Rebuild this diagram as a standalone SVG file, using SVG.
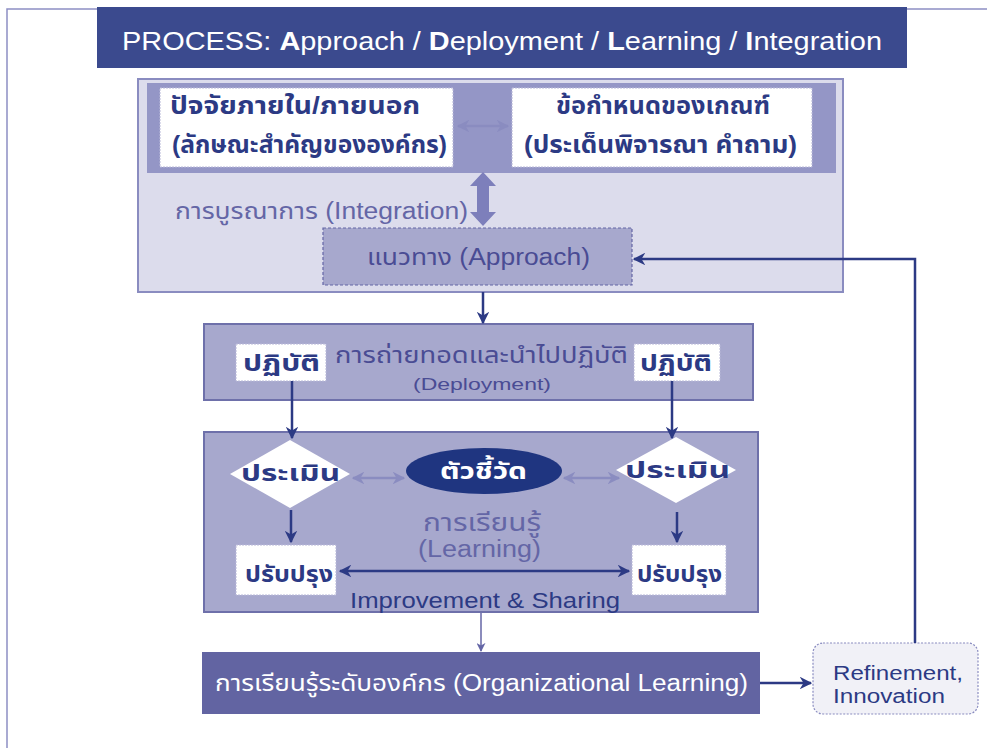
<svg xmlns="http://www.w3.org/2000/svg" width="987" height="748" viewBox="0 0 987 748">
<defs>
<style>
.t{font-family:"Liberation Sans","Noto Sans Thai","Noto Sans",sans-serif;}
.hdr{fill:#3b4a8e;}
.panel{fill:#a7a8cd;stroke:#6e70aa;stroke-width:2;}
.wbox{fill:#ffffff;stroke:#b8b8d8;stroke-width:1;stroke-dasharray:2 1;}
.dk{fill:#2c3a84;}
.md{fill:#6466a6;}
.ln{stroke:#2c3a84;stroke-width:2.5;fill:none;}
.lt{stroke:#8a8cc0;stroke-width:2.5;fill:none;}
</style>
<marker id="ad" viewBox="0 0 10 10" refX="9" refY="5" markerWidth="5" markerHeight="5" orient="auto-start-reverse"><path d="M0,0 L10,5 L0,10 L3,5 z" fill="#2c3a84"/></marker>
<marker id="al" viewBox="0 0 10 10" refX="9" refY="5" markerWidth="5" markerHeight="5" orient="auto-start-reverse"><path d="M0,0 L10,5 L0,10 L3,5 z" fill="#8a8cc0"/></marker>
<marker id="am" viewBox="0 0 10 10" refX="9" refY="5" markerWidth="6" markerHeight="6" orient="auto-start-reverse"><path d="M0,0 L10,5 L0,10 L3,5 z" fill="#6466a6"/></marker>
</defs>
<rect width="987" height="748" fill="#ffffff"/>
<path d="M7,748 L7,9 L987,9" fill="none" stroke="#8d8fc4" stroke-width="1.5"/>

<g id="header">
<rect x="97" y="7" width="810" height="61" class="hdr"/>
<text x="122" y="50" class="t" font-size="26" fill="#ffffff" textLength="760" lengthAdjust="spacingAndGlyphs">PROCESS: <tspan font-weight="bold">A</tspan>pproach / <tspan font-weight="bold">D</tspan>eployment / <tspan font-weight="bold">L</tspan>earning / <tspan font-weight="bold">I</tspan>ntegration</text>
</g>

<g id="top-box">
<rect x="138" y="79" width="705" height="213" fill="#dcdcec" stroke="#8a8cc0" stroke-width="2"/>
<rect x="147" y="83" width="689" height="90" fill="#9496c6"/>
</g>

<g id="factors">
<rect x="160" y="88" width="293" height="79" class="wbox"/>
<text x="170" y="114" class="t dk" font-size="24" font-weight="bold" textLength="250" lengthAdjust="spacingAndGlyphs">ปัจจัยภายใน/ภายนอก</text>
<text x="172" y="153" class="t dk" font-size="24" font-weight="bold" textLength="275" lengthAdjust="spacingAndGlyphs">(ลักษณะสำคัญขององค์กร)</text>
</g>

<g id="criteria">
<rect x="512" y="88" width="300" height="79" class="wbox"/>
<text x="556" y="114" class="t dk" font-size="24" font-weight="bold" textLength="214" lengthAdjust="spacingAndGlyphs">ข้อกำหนดของเกณฑ์</text>
<text x="524" y="153" class="t dk" font-size="24" font-weight="bold" textLength="273" lengthAdjust="spacingAndGlyphs">(ประเด็นพิจารณา คำถาม)</text>
</g>

<g id="integration-label">
<text x="175" y="219" class="t md" font-size="23" textLength="293" lengthAdjust="spacingAndGlyphs">การบูรณาการ (Integration)</text>
</g>

<g id="approach">
<rect x="323" y="228" width="309" height="57" fill="#a7a8cd" stroke="#6466a6" stroke-width="1.2" stroke-dasharray="3 2"/>
<text x="367" y="265" class="t" font-size="23" fill="#4a4c94" textLength="223" lengthAdjust="spacingAndGlyphs">แนวทาง (Approach)</text>
</g>

<g id="deployment">
<rect x="204" y="324" width="549" height="76" class="panel"/>
<text x="335" y="363" class="t" font-size="23" fill="#4a4c94" textLength="293" lengthAdjust="spacingAndGlyphs">การถ่ายทอดและนำไปปฏิบัติ</text>
<text x="413" y="390" class="t" font-size="17" fill="#4a4c94" textLength="138" lengthAdjust="spacingAndGlyphs">(Deployment)</text>
</g>
<g id="do-left">
<rect x="236" y="344" width="90" height="37" class="wbox"/>
<text x="243" y="371" class="t dk" font-size="23" font-weight="bold" textLength="77" lengthAdjust="spacingAndGlyphs">ปฏิบัติ</text>
</g>
<g id="do-right">
<rect x="634" y="344" width="86" height="37" class="wbox"/>
<text x="640" y="371" class="t dk" font-size="23" font-weight="bold" textLength="72" lengthAdjust="spacingAndGlyphs">ปฏิบัติ</text>
</g>

<g id="learning">
<rect x="204" y="432" width="554" height="180" class="panel"/>
<text x="423" y="531" class="t md" font-size="24" textLength="118" lengthAdjust="spacingAndGlyphs">การเรียนรู้</text>
<text x="418" y="557" class="t md" font-size="23" textLength="123" lengthAdjust="spacingAndGlyphs">(Learning)</text>
<text x="350" y="608" class="t dk" font-size="22" textLength="270" lengthAdjust="spacingAndGlyphs">Improvement &amp; Sharing</text>
</g>
<g id="eval-left">
<polygon points="290,440 350,474 290,508 230,474" fill="#ffffff"/>
<text x="241" y="481" class="t dk" font-size="23" font-weight="bold" textLength="99" lengthAdjust="spacingAndGlyphs">ประเมิน</text>
</g>
<g id="eval-right">
<polygon points="676,437 736,470 676,503 616,470" fill="#ffffff"/>
<text x="625" y="478" class="t dk" font-size="23" font-weight="bold" textLength="105" lengthAdjust="spacingAndGlyphs">ประเมิน</text>
</g>
<g id="indicator">
<ellipse cx="484" cy="471" rx="78" ry="23" fill="#1f3580"/>
<text x="440" y="479" class="t" font-size="23" font-weight="bold" fill="#ffffff" textLength="87" lengthAdjust="spacingAndGlyphs">ตัวชี้วัด</text>
</g>
<g id="improve-left">
<rect x="236" y="545" width="100" height="50" class="wbox"/>
<text x="245" y="582" class="t dk" font-size="23" font-weight="bold" textLength="88" lengthAdjust="spacingAndGlyphs">ปรับปรุง</text>
</g>
<g id="improve-right">
<rect x="632" y="545" width="94" height="50" class="wbox"/>
<text x="637" y="582" class="t dk" font-size="23" font-weight="bold" textLength="85" lengthAdjust="spacingAndGlyphs">ปรับปรุง</text>
</g>

<g id="org-learning">
<rect x="202" y="652" width="558" height="62" fill="#6264a2"/>
<text x="215" y="691" class="t" font-size="23" fill="#ffffff" textLength="533" lengthAdjust="spacingAndGlyphs">การเรียนรู้ระดับองค์กร (Organizational Learning)</text>
</g>

<g id="refinement">
<rect x="813" y="643" width="165" height="71" rx="10" fill="#f1f1f7" stroke="#8a8cc0" stroke-width="1.2" stroke-dasharray="2 1.5"/>
<text x="833" y="680" class="t dk" font-size="20" textLength="130" lengthAdjust="spacingAndGlyphs">Refinement,</text>
<text x="833" y="703" class="t dk" font-size="20" textLength="112" lengthAdjust="spacingAndGlyphs">Innovation</text>
</g>

<g id="connectors">
<line x1="458" y1="126" x2="508" y2="126" class="lt" stroke-width="2" marker-start="url(#al)" marker-end="url(#al)"/>
<path d="M483,172 L496,186 L489,186 L489,212 L496,212 L483,226 L470,212 L477,212 L477,186 L470,186 z" fill="#7d7fbb"/>
<line x1="483" y1="292" x2="483" y2="323" class="ln" stroke-width="2" marker-end="url(#ad)"/>
<line x1="292" y1="381" x2="292" y2="438" class="ln" marker-end="url(#ad)"/>
<line x1="672" y1="381" x2="672" y2="438" class="ln" marker-end="url(#ad)"/>
<line x1="353" y1="478" x2="404" y2="478" class="lt" marker-start="url(#al)" marker-end="url(#al)"/>
<line x1="564" y1="478" x2="619" y2="478" class="lt" marker-start="url(#al)" marker-end="url(#al)"/>
<line x1="291" y1="510" x2="291" y2="542" class="ln" marker-end="url(#ad)"/>
<line x1="677" y1="512" x2="677" y2="542" class="ln" marker-end="url(#ad)"/>
<line x1="340" y1="571" x2="629" y2="571" class="ln" marker-start="url(#ad)" marker-end="url(#ad)"/>
<line x1="481" y1="613" x2="481" y2="651" stroke="#6466a6" stroke-width="1.5" marker-end="url(#am)"/>
<line x1="760" y1="683" x2="811" y2="683" class="ln" stroke-width="3" marker-end="url(#ad)"/>
<path d="M915,643 L915,259 L634,259" class="ln" marker-end="url(#ad)"/>
</g>
</svg>
